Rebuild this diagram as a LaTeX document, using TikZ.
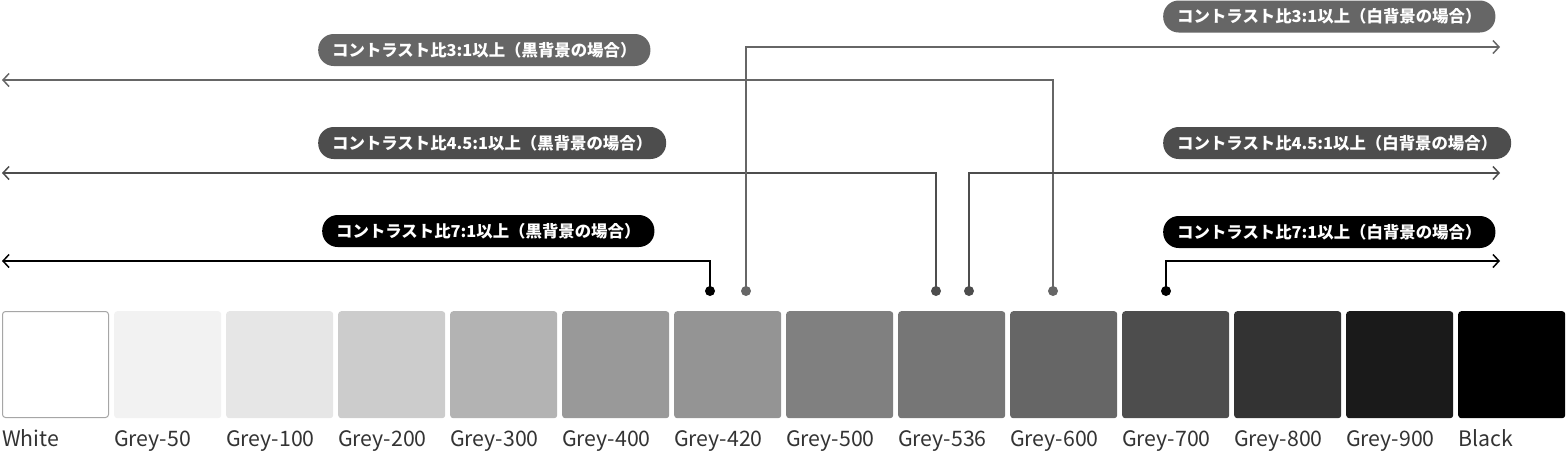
\documentclass[tikz,border=0pt]{standalone}
\usepackage{fontspec}
\setmainfont{Noto Sans CJK JP}
\usetikzlibrary{arrows.meta}
\definecolor{gA}{HTML}{666666}
\definecolor{gB}{HTML}{4D4D4D}
\definecolor{txt}{HTML}{333333}
\begin{document}
\begin{tikzpicture}[x=1pt,y=-1pt,
  swatch/.style={minimum width=107pt,minimum height=107pt,inner sep=0pt,rounded corners=3pt,anchor=north west},
  swlabel/.style={anchor=base west,inner sep=0pt,text=txt,font=\fontsize{21.3}{24}\selectfont},
  pill/.style={anchor=west,rounded corners=15.5pt,minimum height=32pt,inner xsep=14pt,inner ysep=0pt,text=white,font=\bfseries\fontsize{16.4}{18}\selectfont},
  conn/.style={line width=1.8pt,-{Straight Barb[length=6pt,width=13pt,line width=1.5pt]}},
  dotc/.style={circle,inner sep=0pt,minimum size=10pt}
]
\useasboundingbox (0,0) rectangle (1566,451);
% swatches
\foreach \i/\c/\n in {0/FFFFFF/White,1/F2F2F2/Grey-50,2/E6E6E6/Grey-100,3/CCCCCC/Grey-200,4/B3B3B3/Grey-300,5/999999/Grey-400,6/949494/Grey-420,7/808080/Grey-500,8/767676/Grey-536,9/666666/Grey-600,10/4D4D4D/Grey-700,11/333333/Grey-800,12/1A1A1A/Grey-900,13/000000/Black}{
  \definecolor{swc}{HTML}{\c}
  \node[swatch,fill=swc] (sw\i) at ({2+112*\i},311) {};
  \node[swlabel] (lb\i) at ({2+112*\i},446) {\n};
}
\draw[color=gray!70,line width=1pt,rounded corners=3pt] (2.5,311.5) rectangle (108.5,417.5);
% pills
\node[pill,fill=gA] (p3b) at (318,50) {コントラスト比3:1以上（黒背景の場合）};
\node[pill,fill=gB] (p45b) at (318,143) {コントラスト比4.5:1以上（黒背景の場合）};
\node[pill,fill=black] (p7b) at (322,231) {コントラスト比7:1以上（黒背景の場合）};
\node[pill,fill=gA] (p3w) at (1163,16.5) {コントラスト比3:1以上（白背景の場合）};
\node[pill,fill=gB] (p45w) at (1163,143) {コントラスト比4.5:1以上（白背景の場合）};
\node[pill,fill=black] (p7w) at (1163,232) {コントラスト比7:1以上（白背景の場合）};
% dots
\node[dotc,fill=gA] (d3b) at (1053,291) {};
\node[dotc,fill=gB] (d45b) at (936,291) {};
\node[dotc,fill=black] (d7b) at (710,291) {};
\node[dotc,fill=gA] (d3w) at (746,291) {};
\node[dotc,fill=gB] (d45w) at (969,291) {};
\node[dotc,fill=black] (d7w) at (1166,291) {};
% ends
\coordinate (e3b) at (2,80);
\coordinate (e45b) at (2,173);
\coordinate (e7b) at (2,261);
\coordinate (e3w) at (1500,47);
\coordinate (e45w) at (1500,173);
\coordinate (e7w) at (1500,261);
% connectors
\draw[conn,gA] (d3b.center) |- (e3b);
\draw[conn,gB] (d45b.center) |- (e45b);
\draw[conn,black] (d7b.center) |- (e7b);
\draw[conn,gA] (d3w.center) |- (e3w);
\draw[conn,gB] (d45w.center) |- (e45w);
\draw[conn,black] (d7w.center) |- (e7w);
\end{tikzpicture}
\end{document}
